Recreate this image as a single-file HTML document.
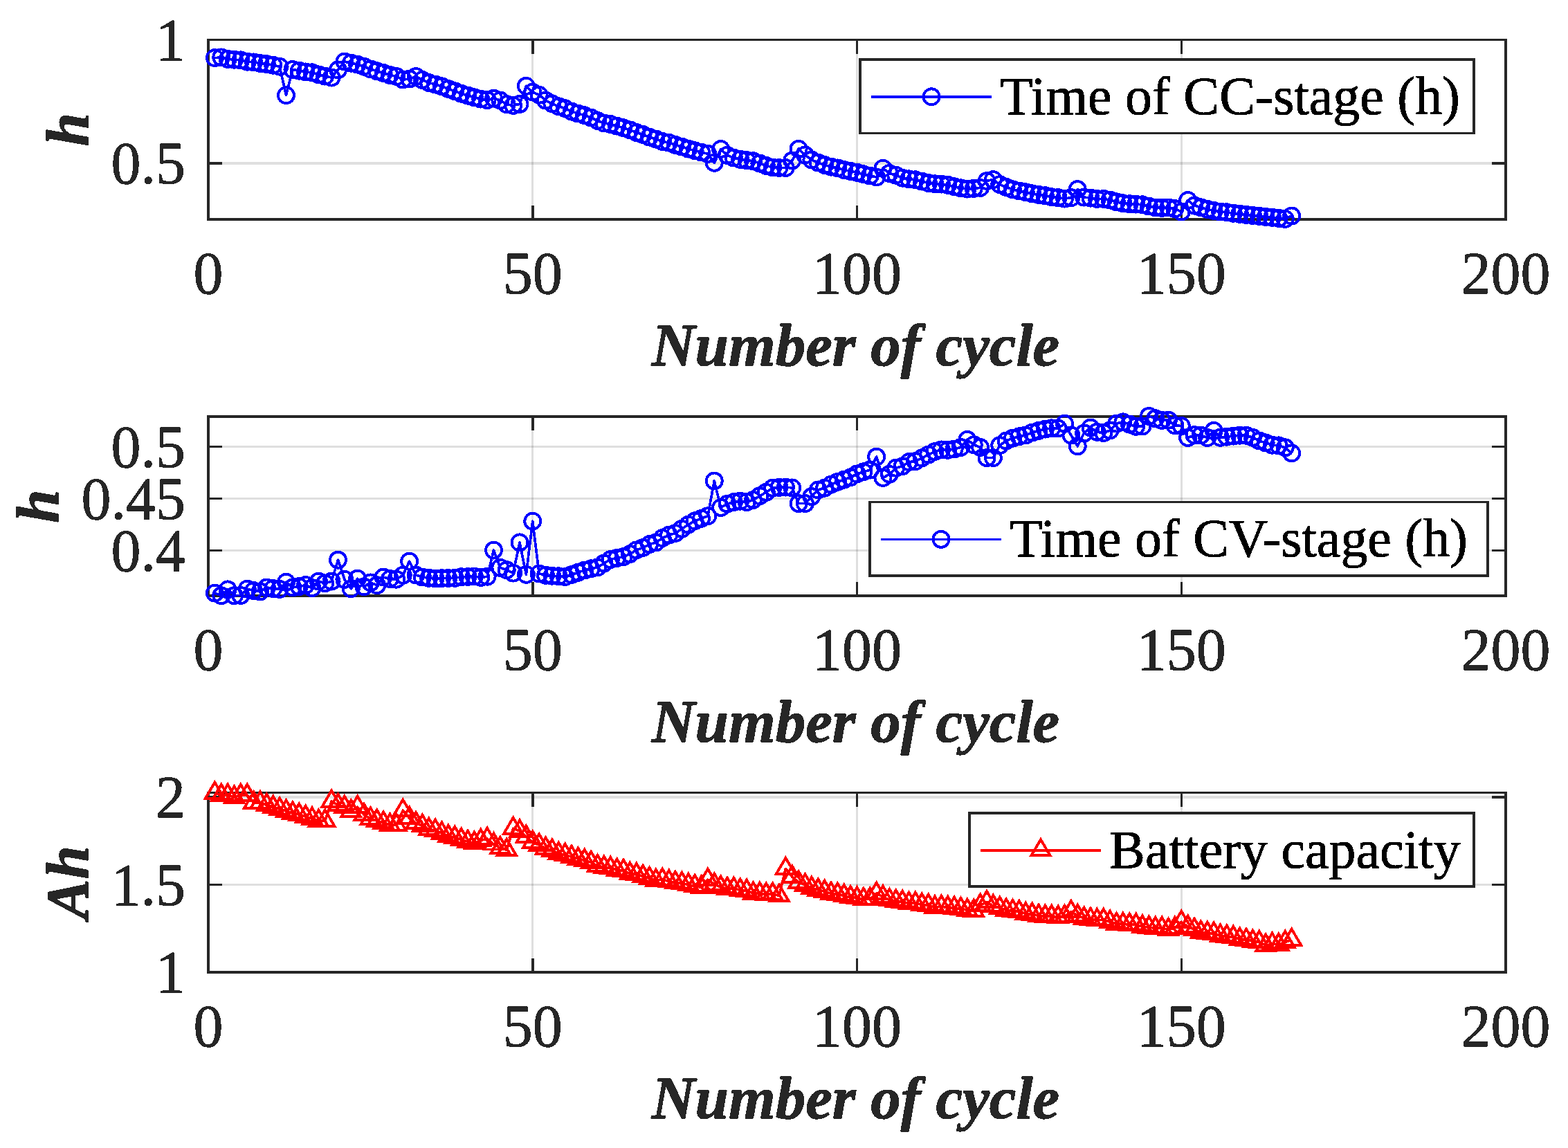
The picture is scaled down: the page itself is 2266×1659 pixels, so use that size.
<!DOCTYPE html><html><head><meta charset="utf-8"><title>Battery cycle plots</title><style>html,body{margin:0;padding:0;background:#fff;}svg{display:block;}text{font-family:"Liberation Serif","Times New Roman",serif;}</style></head><body>
<svg width="2266" height="1659" viewBox="0 0 2266 1659" shape-rendering="crispEdges">
<defs><filter id="bin" x="0" y="0" width="2266" height="1659" filterUnits="userSpaceOnUse" color-interpolation-filters="sRGB"><feComponentTransfer><feFuncA type="discrete" tableValues="0 1"/></feComponentTransfer></filter></defs>
<rect width="2266" height="1659" fill="#fff"/>
<path d="M769.75 57.5V317" stroke="#262626" stroke-opacity="0.15" stroke-width="3.0" fill="none"/>
<path d="M1238.5 57.5V317" stroke="#262626" stroke-opacity="0.15" stroke-width="3.0" fill="none"/>
<path d="M1707.25 57.5V317" stroke="#262626" stroke-opacity="0.15" stroke-width="3.0" fill="none"/>
<path d="M301 236H2176" stroke="#262626" stroke-opacity="0.15" stroke-width="3.5" fill="none"/>
<path d="M301 317v-20M301 57.5v20M769.75 317v-20M769.75 57.5v20M1238.5 317v-20M1238.5 57.5v20M1707.25 317v-20M1707.25 57.5v20M2176 317v-20M2176 57.5v20M301 236h20M2176 236h-20M301 57.5h20M2176 57.5h-20" stroke="#262626" stroke-width="3.5" fill="none"/>
<rect x="301" y="57.5" width="1875" height="259.5" fill="none" stroke="#262626" stroke-width="3.5"/>
<path d="M310.38 83.6L319.75 82.9L329.12 85.3L338.5 86.2L347.88 86.9L357.25 89.2L366.62 89.9L376 91.5L385.38 92.6L394.75 94.2L404.12 96.2L413.5 137.6L422.88 100.5L432.25 102.2L441.62 103.9L451 104.8L460.38 107.9L469.75 110.1L479.12 112.1L488.5 100.9L497.88 89L507.25 91.2L516.62 93.2L526 96.2L535.38 99.9L544.75 102.8L554.12 105.5L563.5 108.5L572.88 110.5L582.25 115L591.62 114L601 110.5L610.38 115.5L619.75 119.5L629.12 122.1L638.5 124.8L647.88 128.5L657.25 131.8L666.62 135.2L676 138.1L685.38 140.8L694.75 143.1L704.12 144.7L713.5 142.1L722.88 145.1L732.25 150.7L741.62 152.4L751 150.4L760.38 124.3L769.75 133.2L779.12 137.2L788.5 145.1L797.88 149.8L807.25 153.8L816.62 156.7L826 161.1L835.38 164L844.75 166.7L854.12 170L863.5 174.4L872.88 178L882.25 179.5L891.62 182.1L901 184.8L910.38 187.9L919.75 191.5L929.12 194.5L938.5 198.1L947.88 201.1L957.25 204.5L966.62 206.1L976 209.4L985.38 212L994.75 215.1L1004.12 217.8L1013.5 220L1022.88 222.4L1032.25 235.3L1041.62 215.5L1051 224.4L1060.38 228L1069.75 230.4L1079.12 231.7L1088.5 232.7L1097.88 236.1L1107.25 239.4L1116.62 242L1126 242.5L1135.38 242.5L1144.75 232L1154.12 215.2L1163.5 224L1172.88 231L1182.25 235L1191.62 238.5L1201 241.1L1210.38 242.9L1219.75 245.6L1229.12 247.5L1238.5 249.3L1247.88 251.8L1257.25 254L1266.62 256L1276 243.3L1285.38 250.5L1294.75 253.2L1304.12 257.2L1313.5 258.8L1322.88 259.8L1332.25 262.1L1341.62 264.5L1351 265.8L1360.38 266.1L1369.75 267.4L1379.12 269.8L1388.5 271.8L1397.88 273.1L1407.25 272.4L1416.62 271.4L1426 261.5L1435.38 259.6L1444.75 266.5L1454.12 270.5L1463.5 273.8L1472.88 276L1482.25 277.8L1491.62 279.8L1501 281.4L1510.38 282.7L1519.75 284.7L1529.12 285.7L1538.5 287.1L1547.88 285.7L1557.25 273.6L1566.62 285.1L1576 286.1L1585.38 287.4L1594.75 287.4L1604.12 289.1L1613.5 291.8L1622.88 293.8L1632.25 294.7L1641.62 295.1L1651 295.8L1660.38 298L1669.75 300L1679.12 300.4L1688.5 300L1697.88 301.7L1707.25 306L1716.62 289.5L1726 297.1L1735.38 299.8L1744.75 302.4L1754.12 304.4L1763.5 306L1772.88 306.7L1782.25 308.2L1791.62 309.3L1801 310.3L1810.38 311.4L1819.75 312.3L1829.12 313.4L1838.5 314.3L1847.88 315.4L1857.25 316.4L1866.62 312" stroke="#0000ff" stroke-width="3.7" fill="none" stroke-linejoin="round"/>
<path d="M298.88 83.6a11.5 11.5 0 1 0 23 0a11.5 11.5 0 1 0 -23 0M308.25 82.9a11.5 11.5 0 1 0 23 0a11.5 11.5 0 1 0 -23 0M317.62 85.3a11.5 11.5 0 1 0 23 0a11.5 11.5 0 1 0 -23 0M327 86.2a11.5 11.5 0 1 0 23 0a11.5 11.5 0 1 0 -23 0M336.38 86.9a11.5 11.5 0 1 0 23 0a11.5 11.5 0 1 0 -23 0M345.75 89.2a11.5 11.5 0 1 0 23 0a11.5 11.5 0 1 0 -23 0M355.12 89.9a11.5 11.5 0 1 0 23 0a11.5 11.5 0 1 0 -23 0M364.5 91.5a11.5 11.5 0 1 0 23 0a11.5 11.5 0 1 0 -23 0M373.88 92.6a11.5 11.5 0 1 0 23 0a11.5 11.5 0 1 0 -23 0M383.25 94.2a11.5 11.5 0 1 0 23 0a11.5 11.5 0 1 0 -23 0M392.62 96.2a11.5 11.5 0 1 0 23 0a11.5 11.5 0 1 0 -23 0M402 137.6a11.5 11.5 0 1 0 23 0a11.5 11.5 0 1 0 -23 0M411.38 100.5a11.5 11.5 0 1 0 23 0a11.5 11.5 0 1 0 -23 0M420.75 102.2a11.5 11.5 0 1 0 23 0a11.5 11.5 0 1 0 -23 0M430.12 103.9a11.5 11.5 0 1 0 23 0a11.5 11.5 0 1 0 -23 0M439.5 104.8a11.5 11.5 0 1 0 23 0a11.5 11.5 0 1 0 -23 0M448.88 107.9a11.5 11.5 0 1 0 23 0a11.5 11.5 0 1 0 -23 0M458.25 110.1a11.5 11.5 0 1 0 23 0a11.5 11.5 0 1 0 -23 0M467.62 112.1a11.5 11.5 0 1 0 23 0a11.5 11.5 0 1 0 -23 0M477 100.9a11.5 11.5 0 1 0 23 0a11.5 11.5 0 1 0 -23 0M486.38 89a11.5 11.5 0 1 0 23 0a11.5 11.5 0 1 0 -23 0M495.75 91.2a11.5 11.5 0 1 0 23 0a11.5 11.5 0 1 0 -23 0M505.12 93.2a11.5 11.5 0 1 0 23 0a11.5 11.5 0 1 0 -23 0M514.5 96.2a11.5 11.5 0 1 0 23 0a11.5 11.5 0 1 0 -23 0M523.88 99.9a11.5 11.5 0 1 0 23 0a11.5 11.5 0 1 0 -23 0M533.25 102.8a11.5 11.5 0 1 0 23 0a11.5 11.5 0 1 0 -23 0M542.62 105.5a11.5 11.5 0 1 0 23 0a11.5 11.5 0 1 0 -23 0M552 108.5a11.5 11.5 0 1 0 23 0a11.5 11.5 0 1 0 -23 0M561.38 110.5a11.5 11.5 0 1 0 23 0a11.5 11.5 0 1 0 -23 0M570.75 115a11.5 11.5 0 1 0 23 0a11.5 11.5 0 1 0 -23 0M580.12 114a11.5 11.5 0 1 0 23 0a11.5 11.5 0 1 0 -23 0M589.5 110.5a11.5 11.5 0 1 0 23 0a11.5 11.5 0 1 0 -23 0M598.88 115.5a11.5 11.5 0 1 0 23 0a11.5 11.5 0 1 0 -23 0M608.25 119.5a11.5 11.5 0 1 0 23 0a11.5 11.5 0 1 0 -23 0M617.62 122.1a11.5 11.5 0 1 0 23 0a11.5 11.5 0 1 0 -23 0M627 124.8a11.5 11.5 0 1 0 23 0a11.5 11.5 0 1 0 -23 0M636.38 128.5a11.5 11.5 0 1 0 23 0a11.5 11.5 0 1 0 -23 0M645.75 131.8a11.5 11.5 0 1 0 23 0a11.5 11.5 0 1 0 -23 0M655.12 135.2a11.5 11.5 0 1 0 23 0a11.5 11.5 0 1 0 -23 0M664.5 138.1a11.5 11.5 0 1 0 23 0a11.5 11.5 0 1 0 -23 0M673.88 140.8a11.5 11.5 0 1 0 23 0a11.5 11.5 0 1 0 -23 0M683.25 143.1a11.5 11.5 0 1 0 23 0a11.5 11.5 0 1 0 -23 0M692.62 144.7a11.5 11.5 0 1 0 23 0a11.5 11.5 0 1 0 -23 0M702 142.1a11.5 11.5 0 1 0 23 0a11.5 11.5 0 1 0 -23 0M711.38 145.1a11.5 11.5 0 1 0 23 0a11.5 11.5 0 1 0 -23 0M720.75 150.7a11.5 11.5 0 1 0 23 0a11.5 11.5 0 1 0 -23 0M730.12 152.4a11.5 11.5 0 1 0 23 0a11.5 11.5 0 1 0 -23 0M739.5 150.4a11.5 11.5 0 1 0 23 0a11.5 11.5 0 1 0 -23 0M748.88 124.3a11.5 11.5 0 1 0 23 0a11.5 11.5 0 1 0 -23 0M758.25 133.2a11.5 11.5 0 1 0 23 0a11.5 11.5 0 1 0 -23 0M767.62 137.2a11.5 11.5 0 1 0 23 0a11.5 11.5 0 1 0 -23 0M777 145.1a11.5 11.5 0 1 0 23 0a11.5 11.5 0 1 0 -23 0M786.38 149.8a11.5 11.5 0 1 0 23 0a11.5 11.5 0 1 0 -23 0M795.75 153.8a11.5 11.5 0 1 0 23 0a11.5 11.5 0 1 0 -23 0M805.12 156.7a11.5 11.5 0 1 0 23 0a11.5 11.5 0 1 0 -23 0M814.5 161.1a11.5 11.5 0 1 0 23 0a11.5 11.5 0 1 0 -23 0M823.88 164a11.5 11.5 0 1 0 23 0a11.5 11.5 0 1 0 -23 0M833.25 166.7a11.5 11.5 0 1 0 23 0a11.5 11.5 0 1 0 -23 0M842.62 170a11.5 11.5 0 1 0 23 0a11.5 11.5 0 1 0 -23 0M852 174.4a11.5 11.5 0 1 0 23 0a11.5 11.5 0 1 0 -23 0M861.38 178a11.5 11.5 0 1 0 23 0a11.5 11.5 0 1 0 -23 0M870.75 179.5a11.5 11.5 0 1 0 23 0a11.5 11.5 0 1 0 -23 0M880.12 182.1a11.5 11.5 0 1 0 23 0a11.5 11.5 0 1 0 -23 0M889.5 184.8a11.5 11.5 0 1 0 23 0a11.5 11.5 0 1 0 -23 0M898.88 187.9a11.5 11.5 0 1 0 23 0a11.5 11.5 0 1 0 -23 0M908.25 191.5a11.5 11.5 0 1 0 23 0a11.5 11.5 0 1 0 -23 0M917.62 194.5a11.5 11.5 0 1 0 23 0a11.5 11.5 0 1 0 -23 0M927 198.1a11.5 11.5 0 1 0 23 0a11.5 11.5 0 1 0 -23 0M936.38 201.1a11.5 11.5 0 1 0 23 0a11.5 11.5 0 1 0 -23 0M945.75 204.5a11.5 11.5 0 1 0 23 0a11.5 11.5 0 1 0 -23 0M955.12 206.1a11.5 11.5 0 1 0 23 0a11.5 11.5 0 1 0 -23 0M964.5 209.4a11.5 11.5 0 1 0 23 0a11.5 11.5 0 1 0 -23 0M973.88 212a11.5 11.5 0 1 0 23 0a11.5 11.5 0 1 0 -23 0M983.25 215.1a11.5 11.5 0 1 0 23 0a11.5 11.5 0 1 0 -23 0M992.62 217.8a11.5 11.5 0 1 0 23 0a11.5 11.5 0 1 0 -23 0M1002 220a11.5 11.5 0 1 0 23 0a11.5 11.5 0 1 0 -23 0M1011.38 222.4a11.5 11.5 0 1 0 23 0a11.5 11.5 0 1 0 -23 0M1020.75 235.3a11.5 11.5 0 1 0 23 0a11.5 11.5 0 1 0 -23 0M1030.12 215.5a11.5 11.5 0 1 0 23 0a11.5 11.5 0 1 0 -23 0M1039.5 224.4a11.5 11.5 0 1 0 23 0a11.5 11.5 0 1 0 -23 0M1048.88 228a11.5 11.5 0 1 0 23 0a11.5 11.5 0 1 0 -23 0M1058.25 230.4a11.5 11.5 0 1 0 23 0a11.5 11.5 0 1 0 -23 0M1067.62 231.7a11.5 11.5 0 1 0 23 0a11.5 11.5 0 1 0 -23 0M1077 232.7a11.5 11.5 0 1 0 23 0a11.5 11.5 0 1 0 -23 0M1086.38 236.1a11.5 11.5 0 1 0 23 0a11.5 11.5 0 1 0 -23 0M1095.75 239.4a11.5 11.5 0 1 0 23 0a11.5 11.5 0 1 0 -23 0M1105.12 242a11.5 11.5 0 1 0 23 0a11.5 11.5 0 1 0 -23 0M1114.5 242.5a11.5 11.5 0 1 0 23 0a11.5 11.5 0 1 0 -23 0M1123.88 242.5a11.5 11.5 0 1 0 23 0a11.5 11.5 0 1 0 -23 0M1133.25 232a11.5 11.5 0 1 0 23 0a11.5 11.5 0 1 0 -23 0M1142.62 215.2a11.5 11.5 0 1 0 23 0a11.5 11.5 0 1 0 -23 0M1152 224a11.5 11.5 0 1 0 23 0a11.5 11.5 0 1 0 -23 0M1161.38 231a11.5 11.5 0 1 0 23 0a11.5 11.5 0 1 0 -23 0M1170.75 235a11.5 11.5 0 1 0 23 0a11.5 11.5 0 1 0 -23 0M1180.12 238.5a11.5 11.5 0 1 0 23 0a11.5 11.5 0 1 0 -23 0M1189.5 241.1a11.5 11.5 0 1 0 23 0a11.5 11.5 0 1 0 -23 0M1198.88 242.9a11.5 11.5 0 1 0 23 0a11.5 11.5 0 1 0 -23 0M1208.25 245.6a11.5 11.5 0 1 0 23 0a11.5 11.5 0 1 0 -23 0M1217.62 247.5a11.5 11.5 0 1 0 23 0a11.5 11.5 0 1 0 -23 0M1227 249.3a11.5 11.5 0 1 0 23 0a11.5 11.5 0 1 0 -23 0M1236.38 251.8a11.5 11.5 0 1 0 23 0a11.5 11.5 0 1 0 -23 0M1245.75 254a11.5 11.5 0 1 0 23 0a11.5 11.5 0 1 0 -23 0M1255.12 256a11.5 11.5 0 1 0 23 0a11.5 11.5 0 1 0 -23 0M1264.5 243.3a11.5 11.5 0 1 0 23 0a11.5 11.5 0 1 0 -23 0M1273.88 250.5a11.5 11.5 0 1 0 23 0a11.5 11.5 0 1 0 -23 0M1283.25 253.2a11.5 11.5 0 1 0 23 0a11.5 11.5 0 1 0 -23 0M1292.62 257.2a11.5 11.5 0 1 0 23 0a11.5 11.5 0 1 0 -23 0M1302 258.8a11.5 11.5 0 1 0 23 0a11.5 11.5 0 1 0 -23 0M1311.38 259.8a11.5 11.5 0 1 0 23 0a11.5 11.5 0 1 0 -23 0M1320.75 262.1a11.5 11.5 0 1 0 23 0a11.5 11.5 0 1 0 -23 0M1330.12 264.5a11.5 11.5 0 1 0 23 0a11.5 11.5 0 1 0 -23 0M1339.5 265.8a11.5 11.5 0 1 0 23 0a11.5 11.5 0 1 0 -23 0M1348.88 266.1a11.5 11.5 0 1 0 23 0a11.5 11.5 0 1 0 -23 0M1358.25 267.4a11.5 11.5 0 1 0 23 0a11.5 11.5 0 1 0 -23 0M1367.62 269.8a11.5 11.5 0 1 0 23 0a11.5 11.5 0 1 0 -23 0M1377 271.8a11.5 11.5 0 1 0 23 0a11.5 11.5 0 1 0 -23 0M1386.38 273.1a11.5 11.5 0 1 0 23 0a11.5 11.5 0 1 0 -23 0M1395.75 272.4a11.5 11.5 0 1 0 23 0a11.5 11.5 0 1 0 -23 0M1405.12 271.4a11.5 11.5 0 1 0 23 0a11.5 11.5 0 1 0 -23 0M1414.5 261.5a11.5 11.5 0 1 0 23 0a11.5 11.5 0 1 0 -23 0M1423.88 259.6a11.5 11.5 0 1 0 23 0a11.5 11.5 0 1 0 -23 0M1433.25 266.5a11.5 11.5 0 1 0 23 0a11.5 11.5 0 1 0 -23 0M1442.62 270.5a11.5 11.5 0 1 0 23 0a11.5 11.5 0 1 0 -23 0M1452 273.8a11.5 11.5 0 1 0 23 0a11.5 11.5 0 1 0 -23 0M1461.38 276a11.5 11.5 0 1 0 23 0a11.5 11.5 0 1 0 -23 0M1470.75 277.8a11.5 11.5 0 1 0 23 0a11.5 11.5 0 1 0 -23 0M1480.12 279.8a11.5 11.5 0 1 0 23 0a11.5 11.5 0 1 0 -23 0M1489.5 281.4a11.5 11.5 0 1 0 23 0a11.5 11.5 0 1 0 -23 0M1498.88 282.7a11.5 11.5 0 1 0 23 0a11.5 11.5 0 1 0 -23 0M1508.25 284.7a11.5 11.5 0 1 0 23 0a11.5 11.5 0 1 0 -23 0M1517.62 285.7a11.5 11.5 0 1 0 23 0a11.5 11.5 0 1 0 -23 0M1527 287.1a11.5 11.5 0 1 0 23 0a11.5 11.5 0 1 0 -23 0M1536.38 285.7a11.5 11.5 0 1 0 23 0a11.5 11.5 0 1 0 -23 0M1545.75 273.6a11.5 11.5 0 1 0 23 0a11.5 11.5 0 1 0 -23 0M1555.12 285.1a11.5 11.5 0 1 0 23 0a11.5 11.5 0 1 0 -23 0M1564.5 286.1a11.5 11.5 0 1 0 23 0a11.5 11.5 0 1 0 -23 0M1573.88 287.4a11.5 11.5 0 1 0 23 0a11.5 11.5 0 1 0 -23 0M1583.25 287.4a11.5 11.5 0 1 0 23 0a11.5 11.5 0 1 0 -23 0M1592.62 289.1a11.5 11.5 0 1 0 23 0a11.5 11.5 0 1 0 -23 0M1602 291.8a11.5 11.5 0 1 0 23 0a11.5 11.5 0 1 0 -23 0M1611.38 293.8a11.5 11.5 0 1 0 23 0a11.5 11.5 0 1 0 -23 0M1620.75 294.7a11.5 11.5 0 1 0 23 0a11.5 11.5 0 1 0 -23 0M1630.12 295.1a11.5 11.5 0 1 0 23 0a11.5 11.5 0 1 0 -23 0M1639.5 295.8a11.5 11.5 0 1 0 23 0a11.5 11.5 0 1 0 -23 0M1648.88 298a11.5 11.5 0 1 0 23 0a11.5 11.5 0 1 0 -23 0M1658.25 300a11.5 11.5 0 1 0 23 0a11.5 11.5 0 1 0 -23 0M1667.62 300.4a11.5 11.5 0 1 0 23 0a11.5 11.5 0 1 0 -23 0M1677 300a11.5 11.5 0 1 0 23 0a11.5 11.5 0 1 0 -23 0M1686.38 301.7a11.5 11.5 0 1 0 23 0a11.5 11.5 0 1 0 -23 0M1695.75 306a11.5 11.5 0 1 0 23 0a11.5 11.5 0 1 0 -23 0M1705.12 289.5a11.5 11.5 0 1 0 23 0a11.5 11.5 0 1 0 -23 0M1714.5 297.1a11.5 11.5 0 1 0 23 0a11.5 11.5 0 1 0 -23 0M1723.88 299.8a11.5 11.5 0 1 0 23 0a11.5 11.5 0 1 0 -23 0M1733.25 302.4a11.5 11.5 0 1 0 23 0a11.5 11.5 0 1 0 -23 0M1742.62 304.4a11.5 11.5 0 1 0 23 0a11.5 11.5 0 1 0 -23 0M1752 306a11.5 11.5 0 1 0 23 0a11.5 11.5 0 1 0 -23 0M1761.38 306.7a11.5 11.5 0 1 0 23 0a11.5 11.5 0 1 0 -23 0M1770.75 308.2a11.5 11.5 0 1 0 23 0a11.5 11.5 0 1 0 -23 0M1780.12 309.3a11.5 11.5 0 1 0 23 0a11.5 11.5 0 1 0 -23 0M1789.5 310.3a11.5 11.5 0 1 0 23 0a11.5 11.5 0 1 0 -23 0M1798.88 311.4a11.5 11.5 0 1 0 23 0a11.5 11.5 0 1 0 -23 0M1808.25 312.3a11.5 11.5 0 1 0 23 0a11.5 11.5 0 1 0 -23 0M1817.62 313.4a11.5 11.5 0 1 0 23 0a11.5 11.5 0 1 0 -23 0M1827 314.3a11.5 11.5 0 1 0 23 0a11.5 11.5 0 1 0 -23 0M1836.38 315.4a11.5 11.5 0 1 0 23 0a11.5 11.5 0 1 0 -23 0M1845.75 316.4a11.5 11.5 0 1 0 23 0a11.5 11.5 0 1 0 -23 0M1855.12 312a11.5 11.5 0 1 0 23 0a11.5 11.5 0 1 0 -23 0" stroke="#0000ff" stroke-width="3.9" fill="none" stroke-linejoin="miter"/>
<rect x="1243.1" y="86" width="886.9" height="106.6" fill="#fff" stroke="#262626" stroke-width="3.5"/>
<path d="M1259.1 139.8H1433.1" stroke="#0000ff" stroke-width="3.7"/>
<circle cx="1346.1" cy="139.8" r="11.5" fill="none" stroke="#0000ff" stroke-width="3.9"/>
<path d="M769.75 602V861" stroke="#262626" stroke-opacity="0.15" stroke-width="3.0" fill="none"/>
<path d="M1238.5 602V861" stroke="#262626" stroke-opacity="0.15" stroke-width="3.0" fill="none"/>
<path d="M1707.25 602V861" stroke="#262626" stroke-opacity="0.15" stroke-width="3.0" fill="none"/>
<path d="M301 795.5H2176" stroke="#262626" stroke-opacity="0.15" stroke-width="3.5" fill="none"/>
<path d="M301 720.7H2176" stroke="#262626" stroke-opacity="0.15" stroke-width="3.5" fill="none"/>
<path d="M301 645.7H2176" stroke="#262626" stroke-opacity="0.15" stroke-width="3.5" fill="none"/>
<path d="M301 861v-20M301 602v20M769.75 861v-20M769.75 602v20M1238.5 861v-20M1238.5 602v20M1707.25 861v-20M1707.25 602v20M2176 861v-20M2176 602v20M301 795.5h20M2176 795.5h-20M301 720.7h20M2176 720.7h-20M301 645.7h20M2176 645.7h-20" stroke="#262626" stroke-width="3.5" fill="none"/>
<rect x="301" y="602" width="1875" height="259" fill="none" stroke="#262626" stroke-width="3.5"/>
<path d="M310.38 857.1L319.75 860.7L329.12 851.9L338.5 860.7L347.88 860.5L357.25 851.2L366.62 853.6L376 855L385.38 849L394.75 850.5L404.12 851.5L413.5 841.3L422.88 849L432.25 847.6L441.62 845.5L451 849.6L460.38 840.1L469.75 842.9L479.12 840.1L488.5 809.2L497.88 837.3L507.25 850.7L516.62 836.2L526 847.8L535.38 841.9L544.75 845.7L554.12 834.1L563.5 836.5L572.88 837.2L582.25 831.3L591.62 811.2L601 831L610.38 834L619.75 835.3L629.12 836L638.5 835.7L647.88 835.5L657.25 835.3L666.62 833.7L676 833.5L685.38 833L694.75 834.4L704.12 833.2L713.5 795.1L722.88 820.3L732.25 823.7L741.62 828.1L751 783.9L760.38 830.3L769.75 753.2L779.12 829L788.5 831.3L797.88 832.2L807.25 832.8L816.62 833.6L826 830.5L835.38 827.3L844.75 824L854.12 821.8L863.5 820L872.88 813.9L882.25 808.6L891.62 806.4L901 804.6L910.38 800.6L919.75 794.9L929.12 791.5L938.5 786.6L947.88 784L957.25 777.6L966.62 773.2L976 770.5L985.38 764.3L994.75 758.1L1004.12 752.8L1013.5 749.4L1022.88 745.7L1032.25 695L1041.62 733.5L1051 728.2L1060.38 725.6L1069.75 724.2L1079.12 725.6L1088.5 722.5L1097.88 716.7L1107.25 711.4L1116.62 705.2L1126 704.3L1135.38 704.1L1144.75 704.9L1154.12 727.6L1163.5 727.6L1172.88 717.6L1182.25 707.9L1191.62 705.2L1201 700.2L1210.38 696.4L1219.75 693.2L1229.12 689.8L1238.5 684.9L1247.88 681.8L1257.25 679.1L1266.62 660.1L1276 690.5L1285.38 685.3L1294.75 676.2L1304.12 673.8L1313.5 667.6L1322.88 666.7L1332.25 661.8L1341.62 657L1351 652.5L1360.38 649.9L1369.75 650.3L1379.12 649L1388.5 646.5L1397.88 635.4L1407.25 642.7L1416.62 646.4L1426 661.6L1435.38 661.6L1444.75 643.6L1454.12 637L1463.5 633.2L1472.88 630.8L1482.25 629L1491.62 625L1501 622.3L1510.38 620.1L1519.75 618.8L1529.12 619L1538.5 612.3L1547.88 629L1557.25 644.8L1566.62 626L1576 618L1585.38 624.3L1594.75 625.6L1604.12 622L1613.5 612.1L1622.88 609.9L1632.25 613.2L1641.62 616.3L1651 616L1660.38 601.4L1669.75 604.8L1679.12 607.5L1688.5 607.2L1697.88 614.8L1707.25 615.5L1716.62 632.5L1726 628.7L1735.38 629L1744.75 632.5L1754.12 622.4L1763.5 632.3L1772.88 631.2L1782.25 630.1L1791.62 629.2L1801 629.2L1810.38 632.3L1819.75 637L1829.12 639.9L1838.5 643.2L1847.88 643.9L1857.25 646.8L1866.62 654.9" stroke="#0000ff" stroke-width="3.7" fill="none" stroke-linejoin="round"/>
<path d="M298.88 857.1a11.5 11.5 0 1 0 23 0a11.5 11.5 0 1 0 -23 0M308.25 860.7a11.5 11.5 0 1 0 23 0a11.5 11.5 0 1 0 -23 0M317.62 851.9a11.5 11.5 0 1 0 23 0a11.5 11.5 0 1 0 -23 0M327 860.7a11.5 11.5 0 1 0 23 0a11.5 11.5 0 1 0 -23 0M336.38 860.5a11.5 11.5 0 1 0 23 0a11.5 11.5 0 1 0 -23 0M345.75 851.2a11.5 11.5 0 1 0 23 0a11.5 11.5 0 1 0 -23 0M355.12 853.6a11.5 11.5 0 1 0 23 0a11.5 11.5 0 1 0 -23 0M364.5 855a11.5 11.5 0 1 0 23 0a11.5 11.5 0 1 0 -23 0M373.88 849a11.5 11.5 0 1 0 23 0a11.5 11.5 0 1 0 -23 0M383.25 850.5a11.5 11.5 0 1 0 23 0a11.5 11.5 0 1 0 -23 0M392.62 851.5a11.5 11.5 0 1 0 23 0a11.5 11.5 0 1 0 -23 0M402 841.3a11.5 11.5 0 1 0 23 0a11.5 11.5 0 1 0 -23 0M411.38 849a11.5 11.5 0 1 0 23 0a11.5 11.5 0 1 0 -23 0M420.75 847.6a11.5 11.5 0 1 0 23 0a11.5 11.5 0 1 0 -23 0M430.12 845.5a11.5 11.5 0 1 0 23 0a11.5 11.5 0 1 0 -23 0M439.5 849.6a11.5 11.5 0 1 0 23 0a11.5 11.5 0 1 0 -23 0M448.88 840.1a11.5 11.5 0 1 0 23 0a11.5 11.5 0 1 0 -23 0M458.25 842.9a11.5 11.5 0 1 0 23 0a11.5 11.5 0 1 0 -23 0M467.62 840.1a11.5 11.5 0 1 0 23 0a11.5 11.5 0 1 0 -23 0M477 809.2a11.5 11.5 0 1 0 23 0a11.5 11.5 0 1 0 -23 0M486.38 837.3a11.5 11.5 0 1 0 23 0a11.5 11.5 0 1 0 -23 0M495.75 850.7a11.5 11.5 0 1 0 23 0a11.5 11.5 0 1 0 -23 0M505.12 836.2a11.5 11.5 0 1 0 23 0a11.5 11.5 0 1 0 -23 0M514.5 847.8a11.5 11.5 0 1 0 23 0a11.5 11.5 0 1 0 -23 0M523.88 841.9a11.5 11.5 0 1 0 23 0a11.5 11.5 0 1 0 -23 0M533.25 845.7a11.5 11.5 0 1 0 23 0a11.5 11.5 0 1 0 -23 0M542.62 834.1a11.5 11.5 0 1 0 23 0a11.5 11.5 0 1 0 -23 0M552 836.5a11.5 11.5 0 1 0 23 0a11.5 11.5 0 1 0 -23 0M561.38 837.2a11.5 11.5 0 1 0 23 0a11.5 11.5 0 1 0 -23 0M570.75 831.3a11.5 11.5 0 1 0 23 0a11.5 11.5 0 1 0 -23 0M580.12 811.2a11.5 11.5 0 1 0 23 0a11.5 11.5 0 1 0 -23 0M589.5 831a11.5 11.5 0 1 0 23 0a11.5 11.5 0 1 0 -23 0M598.88 834a11.5 11.5 0 1 0 23 0a11.5 11.5 0 1 0 -23 0M608.25 835.3a11.5 11.5 0 1 0 23 0a11.5 11.5 0 1 0 -23 0M617.62 836a11.5 11.5 0 1 0 23 0a11.5 11.5 0 1 0 -23 0M627 835.7a11.5 11.5 0 1 0 23 0a11.5 11.5 0 1 0 -23 0M636.38 835.5a11.5 11.5 0 1 0 23 0a11.5 11.5 0 1 0 -23 0M645.75 835.3a11.5 11.5 0 1 0 23 0a11.5 11.5 0 1 0 -23 0M655.12 833.7a11.5 11.5 0 1 0 23 0a11.5 11.5 0 1 0 -23 0M664.5 833.5a11.5 11.5 0 1 0 23 0a11.5 11.5 0 1 0 -23 0M673.88 833a11.5 11.5 0 1 0 23 0a11.5 11.5 0 1 0 -23 0M683.25 834.4a11.5 11.5 0 1 0 23 0a11.5 11.5 0 1 0 -23 0M692.62 833.2a11.5 11.5 0 1 0 23 0a11.5 11.5 0 1 0 -23 0M702 795.1a11.5 11.5 0 1 0 23 0a11.5 11.5 0 1 0 -23 0M711.38 820.3a11.5 11.5 0 1 0 23 0a11.5 11.5 0 1 0 -23 0M720.75 823.7a11.5 11.5 0 1 0 23 0a11.5 11.5 0 1 0 -23 0M730.12 828.1a11.5 11.5 0 1 0 23 0a11.5 11.5 0 1 0 -23 0M739.5 783.9a11.5 11.5 0 1 0 23 0a11.5 11.5 0 1 0 -23 0M748.88 830.3a11.5 11.5 0 1 0 23 0a11.5 11.5 0 1 0 -23 0M758.25 753.2a11.5 11.5 0 1 0 23 0a11.5 11.5 0 1 0 -23 0M767.62 829a11.5 11.5 0 1 0 23 0a11.5 11.5 0 1 0 -23 0M777 831.3a11.5 11.5 0 1 0 23 0a11.5 11.5 0 1 0 -23 0M786.38 832.2a11.5 11.5 0 1 0 23 0a11.5 11.5 0 1 0 -23 0M795.75 832.8a11.5 11.5 0 1 0 23 0a11.5 11.5 0 1 0 -23 0M805.12 833.6a11.5 11.5 0 1 0 23 0a11.5 11.5 0 1 0 -23 0M814.5 830.5a11.5 11.5 0 1 0 23 0a11.5 11.5 0 1 0 -23 0M823.88 827.3a11.5 11.5 0 1 0 23 0a11.5 11.5 0 1 0 -23 0M833.25 824a11.5 11.5 0 1 0 23 0a11.5 11.5 0 1 0 -23 0M842.62 821.8a11.5 11.5 0 1 0 23 0a11.5 11.5 0 1 0 -23 0M852 820a11.5 11.5 0 1 0 23 0a11.5 11.5 0 1 0 -23 0M861.38 813.9a11.5 11.5 0 1 0 23 0a11.5 11.5 0 1 0 -23 0M870.75 808.6a11.5 11.5 0 1 0 23 0a11.5 11.5 0 1 0 -23 0M880.12 806.4a11.5 11.5 0 1 0 23 0a11.5 11.5 0 1 0 -23 0M889.5 804.6a11.5 11.5 0 1 0 23 0a11.5 11.5 0 1 0 -23 0M898.88 800.6a11.5 11.5 0 1 0 23 0a11.5 11.5 0 1 0 -23 0M908.25 794.9a11.5 11.5 0 1 0 23 0a11.5 11.5 0 1 0 -23 0M917.62 791.5a11.5 11.5 0 1 0 23 0a11.5 11.5 0 1 0 -23 0M927 786.6a11.5 11.5 0 1 0 23 0a11.5 11.5 0 1 0 -23 0M936.38 784a11.5 11.5 0 1 0 23 0a11.5 11.5 0 1 0 -23 0M945.75 777.6a11.5 11.5 0 1 0 23 0a11.5 11.5 0 1 0 -23 0M955.12 773.2a11.5 11.5 0 1 0 23 0a11.5 11.5 0 1 0 -23 0M964.5 770.5a11.5 11.5 0 1 0 23 0a11.5 11.5 0 1 0 -23 0M973.88 764.3a11.5 11.5 0 1 0 23 0a11.5 11.5 0 1 0 -23 0M983.25 758.1a11.5 11.5 0 1 0 23 0a11.5 11.5 0 1 0 -23 0M992.62 752.8a11.5 11.5 0 1 0 23 0a11.5 11.5 0 1 0 -23 0M1002 749.4a11.5 11.5 0 1 0 23 0a11.5 11.5 0 1 0 -23 0M1011.38 745.7a11.5 11.5 0 1 0 23 0a11.5 11.5 0 1 0 -23 0M1020.75 695a11.5 11.5 0 1 0 23 0a11.5 11.5 0 1 0 -23 0M1030.12 733.5a11.5 11.5 0 1 0 23 0a11.5 11.5 0 1 0 -23 0M1039.5 728.2a11.5 11.5 0 1 0 23 0a11.5 11.5 0 1 0 -23 0M1048.88 725.6a11.5 11.5 0 1 0 23 0a11.5 11.5 0 1 0 -23 0M1058.25 724.2a11.5 11.5 0 1 0 23 0a11.5 11.5 0 1 0 -23 0M1067.62 725.6a11.5 11.5 0 1 0 23 0a11.5 11.5 0 1 0 -23 0M1077 722.5a11.5 11.5 0 1 0 23 0a11.5 11.5 0 1 0 -23 0M1086.38 716.7a11.5 11.5 0 1 0 23 0a11.5 11.5 0 1 0 -23 0M1095.75 711.4a11.5 11.5 0 1 0 23 0a11.5 11.5 0 1 0 -23 0M1105.12 705.2a11.5 11.5 0 1 0 23 0a11.5 11.5 0 1 0 -23 0M1114.5 704.3a11.5 11.5 0 1 0 23 0a11.5 11.5 0 1 0 -23 0M1123.88 704.1a11.5 11.5 0 1 0 23 0a11.5 11.5 0 1 0 -23 0M1133.25 704.9a11.5 11.5 0 1 0 23 0a11.5 11.5 0 1 0 -23 0M1142.62 727.6a11.5 11.5 0 1 0 23 0a11.5 11.5 0 1 0 -23 0M1152 727.6a11.5 11.5 0 1 0 23 0a11.5 11.5 0 1 0 -23 0M1161.38 717.6a11.5 11.5 0 1 0 23 0a11.5 11.5 0 1 0 -23 0M1170.75 707.9a11.5 11.5 0 1 0 23 0a11.5 11.5 0 1 0 -23 0M1180.12 705.2a11.5 11.5 0 1 0 23 0a11.5 11.5 0 1 0 -23 0M1189.5 700.2a11.5 11.5 0 1 0 23 0a11.5 11.5 0 1 0 -23 0M1198.88 696.4a11.5 11.5 0 1 0 23 0a11.5 11.5 0 1 0 -23 0M1208.25 693.2a11.5 11.5 0 1 0 23 0a11.5 11.5 0 1 0 -23 0M1217.62 689.8a11.5 11.5 0 1 0 23 0a11.5 11.5 0 1 0 -23 0M1227 684.9a11.5 11.5 0 1 0 23 0a11.5 11.5 0 1 0 -23 0M1236.38 681.8a11.5 11.5 0 1 0 23 0a11.5 11.5 0 1 0 -23 0M1245.75 679.1a11.5 11.5 0 1 0 23 0a11.5 11.5 0 1 0 -23 0M1255.12 660.1a11.5 11.5 0 1 0 23 0a11.5 11.5 0 1 0 -23 0M1264.5 690.5a11.5 11.5 0 1 0 23 0a11.5 11.5 0 1 0 -23 0M1273.88 685.3a11.5 11.5 0 1 0 23 0a11.5 11.5 0 1 0 -23 0M1283.25 676.2a11.5 11.5 0 1 0 23 0a11.5 11.5 0 1 0 -23 0M1292.62 673.8a11.5 11.5 0 1 0 23 0a11.5 11.5 0 1 0 -23 0M1302 667.6a11.5 11.5 0 1 0 23 0a11.5 11.5 0 1 0 -23 0M1311.38 666.7a11.5 11.5 0 1 0 23 0a11.5 11.5 0 1 0 -23 0M1320.75 661.8a11.5 11.5 0 1 0 23 0a11.5 11.5 0 1 0 -23 0M1330.12 657a11.5 11.5 0 1 0 23 0a11.5 11.5 0 1 0 -23 0M1339.5 652.5a11.5 11.5 0 1 0 23 0a11.5 11.5 0 1 0 -23 0M1348.88 649.9a11.5 11.5 0 1 0 23 0a11.5 11.5 0 1 0 -23 0M1358.25 650.3a11.5 11.5 0 1 0 23 0a11.5 11.5 0 1 0 -23 0M1367.62 649a11.5 11.5 0 1 0 23 0a11.5 11.5 0 1 0 -23 0M1377 646.5a11.5 11.5 0 1 0 23 0a11.5 11.5 0 1 0 -23 0M1386.38 635.4a11.5 11.5 0 1 0 23 0a11.5 11.5 0 1 0 -23 0M1395.75 642.7a11.5 11.5 0 1 0 23 0a11.5 11.5 0 1 0 -23 0M1405.12 646.4a11.5 11.5 0 1 0 23 0a11.5 11.5 0 1 0 -23 0M1414.5 661.6a11.5 11.5 0 1 0 23 0a11.5 11.5 0 1 0 -23 0M1423.88 661.6a11.5 11.5 0 1 0 23 0a11.5 11.5 0 1 0 -23 0M1433.25 643.6a11.5 11.5 0 1 0 23 0a11.5 11.5 0 1 0 -23 0M1442.62 637a11.5 11.5 0 1 0 23 0a11.5 11.5 0 1 0 -23 0M1452 633.2a11.5 11.5 0 1 0 23 0a11.5 11.5 0 1 0 -23 0M1461.38 630.8a11.5 11.5 0 1 0 23 0a11.5 11.5 0 1 0 -23 0M1470.75 629a11.5 11.5 0 1 0 23 0a11.5 11.5 0 1 0 -23 0M1480.12 625a11.5 11.5 0 1 0 23 0a11.5 11.5 0 1 0 -23 0M1489.5 622.3a11.5 11.5 0 1 0 23 0a11.5 11.5 0 1 0 -23 0M1498.88 620.1a11.5 11.5 0 1 0 23 0a11.5 11.5 0 1 0 -23 0M1508.25 618.8a11.5 11.5 0 1 0 23 0a11.5 11.5 0 1 0 -23 0M1517.62 619a11.5 11.5 0 1 0 23 0a11.5 11.5 0 1 0 -23 0M1527 612.3a11.5 11.5 0 1 0 23 0a11.5 11.5 0 1 0 -23 0M1536.38 629a11.5 11.5 0 1 0 23 0a11.5 11.5 0 1 0 -23 0M1545.75 644.8a11.5 11.5 0 1 0 23 0a11.5 11.5 0 1 0 -23 0M1555.12 626a11.5 11.5 0 1 0 23 0a11.5 11.5 0 1 0 -23 0M1564.5 618a11.5 11.5 0 1 0 23 0a11.5 11.5 0 1 0 -23 0M1573.88 624.3a11.5 11.5 0 1 0 23 0a11.5 11.5 0 1 0 -23 0M1583.25 625.6a11.5 11.5 0 1 0 23 0a11.5 11.5 0 1 0 -23 0M1592.62 622a11.5 11.5 0 1 0 23 0a11.5 11.5 0 1 0 -23 0M1602 612.1a11.5 11.5 0 1 0 23 0a11.5 11.5 0 1 0 -23 0M1611.38 609.9a11.5 11.5 0 1 0 23 0a11.5 11.5 0 1 0 -23 0M1620.75 613.2a11.5 11.5 0 1 0 23 0a11.5 11.5 0 1 0 -23 0M1630.12 616.3a11.5 11.5 0 1 0 23 0a11.5 11.5 0 1 0 -23 0M1639.5 616a11.5 11.5 0 1 0 23 0a11.5 11.5 0 1 0 -23 0M1648.88 601.4a11.5 11.5 0 1 0 23 0a11.5 11.5 0 1 0 -23 0M1658.25 604.8a11.5 11.5 0 1 0 23 0a11.5 11.5 0 1 0 -23 0M1667.62 607.5a11.5 11.5 0 1 0 23 0a11.5 11.5 0 1 0 -23 0M1677 607.2a11.5 11.5 0 1 0 23 0a11.5 11.5 0 1 0 -23 0M1686.38 614.8a11.5 11.5 0 1 0 23 0a11.5 11.5 0 1 0 -23 0M1695.75 615.5a11.5 11.5 0 1 0 23 0a11.5 11.5 0 1 0 -23 0M1705.12 632.5a11.5 11.5 0 1 0 23 0a11.5 11.5 0 1 0 -23 0M1714.5 628.7a11.5 11.5 0 1 0 23 0a11.5 11.5 0 1 0 -23 0M1723.88 629a11.5 11.5 0 1 0 23 0a11.5 11.5 0 1 0 -23 0M1733.25 632.5a11.5 11.5 0 1 0 23 0a11.5 11.5 0 1 0 -23 0M1742.62 622.4a11.5 11.5 0 1 0 23 0a11.5 11.5 0 1 0 -23 0M1752 632.3a11.5 11.5 0 1 0 23 0a11.5 11.5 0 1 0 -23 0M1761.38 631.2a11.5 11.5 0 1 0 23 0a11.5 11.5 0 1 0 -23 0M1770.75 630.1a11.5 11.5 0 1 0 23 0a11.5 11.5 0 1 0 -23 0M1780.12 629.2a11.5 11.5 0 1 0 23 0a11.5 11.5 0 1 0 -23 0M1789.5 629.2a11.5 11.5 0 1 0 23 0a11.5 11.5 0 1 0 -23 0M1798.88 632.3a11.5 11.5 0 1 0 23 0a11.5 11.5 0 1 0 -23 0M1808.25 637a11.5 11.5 0 1 0 23 0a11.5 11.5 0 1 0 -23 0M1817.62 639.9a11.5 11.5 0 1 0 23 0a11.5 11.5 0 1 0 -23 0M1827 643.2a11.5 11.5 0 1 0 23 0a11.5 11.5 0 1 0 -23 0M1836.38 643.9a11.5 11.5 0 1 0 23 0a11.5 11.5 0 1 0 -23 0M1845.75 646.8a11.5 11.5 0 1 0 23 0a11.5 11.5 0 1 0 -23 0M1855.12 654.9a11.5 11.5 0 1 0 23 0a11.5 11.5 0 1 0 -23 0" stroke="#0000ff" stroke-width="3.9" fill="none" stroke-linejoin="miter"/>
<rect x="1257" y="725.6" width="893" height="106.4" fill="#fff" stroke="#262626" stroke-width="3.5"/>
<path d="M1273 779.4H1447" stroke="#0000ff" stroke-width="3.7"/>
<circle cx="1360" cy="779.4" r="11.5" fill="none" stroke="#0000ff" stroke-width="3.9"/>
<path d="M769.75 1145.5V1405" stroke="#262626" stroke-opacity="0.15" stroke-width="3.0" fill="none"/>
<path d="M1238.5 1145.5V1405" stroke="#262626" stroke-opacity="0.15" stroke-width="3.0" fill="none"/>
<path d="M1707.25 1145.5V1405" stroke="#262626" stroke-opacity="0.15" stroke-width="3.0" fill="none"/>
<path d="M301 1278.5H2176" stroke="#262626" stroke-opacity="0.15" stroke-width="3.5" fill="none"/>
<path d="M301 1152H2176" stroke="#262626" stroke-opacity="0.15" stroke-width="3.5" fill="none"/>
<path d="M301 1405v-20M301 1145.5v20M769.75 1405v-20M769.75 1145.5v20M1238.5 1405v-20M1238.5 1145.5v20M1707.25 1405v-20M1707.25 1145.5v20M2176 1405v-20M2176 1145.5v20M301 1405h20M2176 1405h-20M301 1278.5h20M2176 1278.5h-20M301 1152h20M2176 1152h-20" stroke="#262626" stroke-width="3.5" fill="none"/>
<rect x="301" y="1145.5" width="1875" height="259.5" fill="none" stroke="#262626" stroke-width="3.5"/>
<path d="M310.38 1146.2L319.75 1149.2L329.12 1149.2L338.5 1152.1L347.88 1149.2L357.25 1149.2L366.62 1160.1L376 1160.1L385.38 1163.3L394.75 1166.3L404.12 1169.1L413.5 1172.1L422.88 1175L432.25 1177.2L441.62 1180.2L451 1183.1L460.38 1186.1L469.75 1186.1L479.12 1158.1L488.5 1163.3L497.88 1166.3L507.25 1172.1L516.62 1166.3L526 1177.5L535.38 1183L544.75 1186.1L554.12 1189.1L563.5 1192.2L572.88 1192.2L582.25 1171.2L591.62 1182.3L601 1189.5L610.38 1193.3L619.75 1198.3L629.12 1200.2L638.5 1204.2L647.88 1208.3L657.25 1210.2L666.62 1213.3L676 1216.3L685.38 1218.3L694.75 1214.4L704.12 1212.2L713.5 1219.9L722.88 1225.5L732.25 1228.2L741.62 1197.2L751 1201.1L760.38 1209.2L769.75 1217L779.12 1221.1L788.5 1226.1L797.88 1229.1L807.25 1233.3L816.62 1235.3L826 1238.3L835.38 1241.1L844.75 1243.3L854.12 1246.4L863.5 1251.3L872.88 1253.3L882.25 1254.4L891.62 1257.1L901 1258.2L910.38 1262.4L919.75 1263.5L929.12 1266.4L938.5 1269.3L947.88 1272.3L957.25 1271.2L966.62 1273.4L976 1275.4L985.38 1276.5L994.75 1278.5L1004.12 1280.4L1013.5 1282.2L1022.88 1271.3L1032.25 1278L1041.62 1282.2L1051 1284.2L1060.38 1284.2L1069.75 1286.1L1079.12 1287.2L1088.5 1291.1L1097.88 1291.3L1107.25 1292.2L1116.62 1292.2L1126 1294.2L1135.38 1255.4L1144.75 1267.2L1154.12 1275L1163.5 1279.1L1172.88 1283.3L1182.25 1286.1L1191.62 1288.3L1201 1291.3L1210.38 1292.2L1219.75 1294.4L1229.12 1296.6L1238.5 1297.9L1247.88 1299.4L1257.25 1299.1L1266.62 1291.1L1276 1296.1L1285.38 1300.6L1294.75 1302L1304.12 1303.3L1313.5 1305.3L1322.88 1305.3L1332.25 1307.2L1341.62 1308.3L1351 1311.1L1360.38 1310.2L1369.75 1311.3L1379.12 1312.2L1388.5 1313.3L1397.88 1315.3L1407.25 1316.1L1416.62 1308.3L1426 1303.6L1435.38 1309.4L1444.75 1312.2L1454.12 1315L1463.5 1316.4L1472.88 1317.5L1482.25 1320.4L1491.62 1321.3L1501 1323.3L1510.38 1324.2L1519.75 1324.4L1529.12 1325.3L1538.5 1324.4L1547.88 1317.6L1557.25 1323.3L1566.62 1327.2L1576 1328.3L1585.38 1329.4L1594.75 1329.4L1604.12 1332.2L1613.5 1335.3L1622.88 1335.3L1632.25 1336.1L1641.62 1336.4L1651 1339L1660.38 1340.1L1669.75 1341.3L1679.12 1341.3L1688.5 1343.3L1697.88 1341.3L1707.25 1332.3L1716.62 1339.1L1726 1343.2L1735.38 1347.2L1744.75 1348.2L1754.12 1349.1L1763.5 1352.2L1772.88 1353.1L1782.25 1354.3L1791.62 1357.3L1801 1358.2L1810.38 1360.2L1819.75 1361.4L1829.12 1366.1L1838.5 1364.2L1847.88 1365.2L1857.25 1361.4L1866.62 1358.2" stroke="#ff0000" stroke-width="3.7" fill="none" stroke-linejoin="round"/>
<path d="M310.38 1130.6L323.98 1153.8L296.77 1153.8ZM319.75 1133.6L333.35 1156.8L306.15 1156.8ZM329.12 1133.6L342.73 1156.8L315.52 1156.8ZM338.5 1136.5L352.1 1159.7L324.9 1159.7ZM347.88 1133.6L361.48 1156.8L334.27 1156.8ZM357.25 1133.6L370.85 1156.8L343.65 1156.8ZM366.62 1144.5L380.23 1167.7L353.02 1167.7ZM376 1144.5L389.6 1167.7L362.4 1167.7ZM385.38 1147.7L398.98 1170.9L371.77 1170.9ZM394.75 1150.7L408.35 1173.9L381.15 1173.9ZM404.12 1153.5L417.73 1176.7L390.52 1176.7ZM413.5 1156.5L427.1 1179.7L399.9 1179.7ZM422.88 1159.4L436.48 1182.6L409.27 1182.6ZM432.25 1161.6L445.85 1184.8L418.65 1184.8ZM441.62 1164.6L455.23 1187.8L428.02 1187.8ZM451 1167.5L464.6 1190.7L437.4 1190.7ZM460.38 1170.5L473.98 1193.7L446.77 1193.7ZM469.75 1170.5L483.35 1193.7L456.15 1193.7ZM479.12 1142.5L492.73 1165.7L465.52 1165.7ZM488.5 1147.7L502.1 1170.9L474.9 1170.9ZM497.88 1150.7L511.48 1173.9L484.27 1173.9ZM507.25 1156.5L520.85 1179.7L493.65 1179.7ZM516.62 1150.7L530.23 1173.9L503.02 1173.9ZM526 1161.9L539.6 1185.1L512.4 1185.1ZM535.38 1167.4L548.98 1190.6L521.77 1190.6ZM544.75 1170.5L558.35 1193.7L531.15 1193.7ZM554.12 1173.5L567.73 1196.7L540.52 1196.7ZM563.5 1176.6L577.1 1199.8L549.9 1199.8ZM572.88 1176.6L586.48 1199.8L559.27 1199.8ZM582.25 1155.6L595.85 1178.8L568.65 1178.8ZM591.62 1166.7L605.23 1189.9L578.02 1189.9ZM601 1173.9L614.6 1197.1L587.4 1197.1ZM610.38 1177.7L623.98 1200.9L596.77 1200.9ZM619.75 1182.7L633.35 1205.9L606.15 1205.9ZM629.12 1184.6L642.73 1207.8L615.52 1207.8ZM638.5 1188.6L652.1 1211.8L624.9 1211.8ZM647.88 1192.7L661.48 1215.9L634.27 1215.9ZM657.25 1194.6L670.85 1217.8L643.65 1217.8ZM666.62 1197.7L680.23 1220.9L653.02 1220.9ZM676 1200.7L689.6 1223.9L662.4 1223.9ZM685.38 1202.7L698.98 1225.9L671.77 1225.9ZM694.75 1198.8L708.35 1222L681.15 1222ZM704.12 1196.6L717.73 1219.8L690.52 1219.8ZM713.5 1204.3L727.1 1227.5L699.9 1227.5ZM722.88 1209.9L736.48 1233.1L709.27 1233.1ZM732.25 1212.6L745.85 1235.8L718.65 1235.8ZM741.62 1181.6L755.23 1204.8L728.02 1204.8ZM751 1185.5L764.6 1208.7L737.4 1208.7ZM760.38 1193.6L773.98 1216.8L746.77 1216.8ZM769.75 1201.4L783.35 1224.6L756.15 1224.6ZM779.12 1205.5L792.73 1228.7L765.52 1228.7ZM788.5 1210.5L802.1 1233.7L774.9 1233.7ZM797.88 1213.5L811.48 1236.7L784.27 1236.7ZM807.25 1217.7L820.85 1240.9L793.65 1240.9ZM816.62 1219.7L830.23 1242.9L803.02 1242.9ZM826 1222.7L839.6 1245.9L812.4 1245.9ZM835.38 1225.5L848.98 1248.7L821.77 1248.7ZM844.75 1227.7L858.35 1250.9L831.15 1250.9ZM854.12 1230.8L867.73 1254L840.52 1254ZM863.5 1235.7L877.1 1258.9L849.9 1258.9ZM872.88 1237.7L886.48 1260.9L859.27 1260.9ZM882.25 1238.8L895.85 1262L868.65 1262ZM891.62 1241.5L905.23 1264.7L878.02 1264.7ZM901 1242.6L914.6 1265.8L887.4 1265.8ZM910.38 1246.8L923.98 1270L896.77 1270ZM919.75 1247.9L933.35 1271.1L906.15 1271.1ZM929.12 1250.8L942.73 1274L915.52 1274ZM938.5 1253.7L952.1 1276.9L924.9 1276.9ZM947.88 1256.7L961.48 1279.9L934.27 1279.9ZM957.25 1255.6L970.85 1278.8L943.65 1278.8ZM966.62 1257.8L980.23 1281L953.02 1281ZM976 1259.8L989.6 1283L962.4 1283ZM985.38 1260.9L998.98 1284.1L971.77 1284.1ZM994.75 1262.9L1008.35 1286.1L981.15 1286.1ZM1004.12 1264.8L1017.73 1288L990.52 1288ZM1013.5 1266.6L1027.1 1289.8L999.9 1289.8ZM1022.88 1255.7L1036.47 1278.9L1009.27 1278.9ZM1032.25 1262.4L1045.85 1285.6L1018.65 1285.6ZM1041.62 1266.6L1055.22 1289.8L1028.03 1289.8ZM1051 1268.6L1064.6 1291.8L1037.4 1291.8ZM1060.38 1268.6L1073.97 1291.8L1046.78 1291.8ZM1069.75 1270.5L1083.35 1293.7L1056.15 1293.7ZM1079.12 1271.6L1092.72 1294.8L1065.53 1294.8ZM1088.5 1275.5L1102.1 1298.7L1074.9 1298.7ZM1097.88 1275.7L1111.47 1298.9L1084.28 1298.9ZM1107.25 1276.6L1120.85 1299.8L1093.65 1299.8ZM1116.62 1276.6L1130.22 1299.8L1103.03 1299.8ZM1126 1278.6L1139.6 1301.8L1112.4 1301.8ZM1135.38 1239.8L1148.97 1263L1121.78 1263ZM1144.75 1251.6L1158.35 1274.8L1131.15 1274.8ZM1154.12 1259.4L1167.72 1282.6L1140.53 1282.6ZM1163.5 1263.5L1177.1 1286.7L1149.9 1286.7ZM1172.88 1267.7L1186.47 1290.9L1159.28 1290.9ZM1182.25 1270.5L1195.85 1293.7L1168.65 1293.7ZM1191.62 1272.7L1205.22 1295.9L1178.03 1295.9ZM1201 1275.7L1214.6 1298.9L1187.4 1298.9ZM1210.38 1276.6L1223.97 1299.8L1196.78 1299.8ZM1219.75 1278.8L1233.35 1302L1206.15 1302ZM1229.12 1281L1242.72 1304.2L1215.53 1304.2ZM1238.5 1282.3L1252.1 1305.5L1224.9 1305.5ZM1247.88 1283.8L1261.47 1307L1234.28 1307ZM1257.25 1283.5L1270.85 1306.7L1243.65 1306.7ZM1266.62 1275.5L1280.22 1298.7L1253.03 1298.7ZM1276 1280.5L1289.6 1303.7L1262.4 1303.7ZM1285.38 1285L1298.97 1308.2L1271.78 1308.2ZM1294.75 1286.4L1308.35 1309.6L1281.15 1309.6ZM1304.12 1287.7L1317.72 1310.9L1290.53 1310.9ZM1313.5 1289.7L1327.1 1312.9L1299.9 1312.9ZM1322.88 1289.7L1336.47 1312.9L1309.28 1312.9ZM1332.25 1291.6L1345.85 1314.8L1318.65 1314.8ZM1341.62 1292.7L1355.22 1315.9L1328.03 1315.9ZM1351 1295.5L1364.6 1318.7L1337.4 1318.7ZM1360.38 1294.6L1373.97 1317.8L1346.78 1317.8ZM1369.75 1295.7L1383.35 1318.9L1356.15 1318.9ZM1379.12 1296.6L1392.72 1319.8L1365.53 1319.8ZM1388.5 1297.7L1402.1 1320.9L1374.9 1320.9ZM1397.88 1299.7L1411.47 1322.9L1384.28 1322.9ZM1407.25 1300.5L1420.85 1323.7L1393.65 1323.7ZM1416.62 1292.7L1430.22 1315.9L1403.03 1315.9ZM1426 1288L1439.6 1311.2L1412.4 1311.2ZM1435.38 1293.8L1448.97 1317L1421.78 1317ZM1444.75 1296.6L1458.35 1319.8L1431.15 1319.8ZM1454.12 1299.4L1467.72 1322.6L1440.53 1322.6ZM1463.5 1300.8L1477.1 1324L1449.9 1324ZM1472.88 1301.9L1486.47 1325.1L1459.28 1325.1ZM1482.25 1304.8L1495.85 1328L1468.65 1328ZM1491.62 1305.7L1505.22 1328.9L1478.03 1328.9ZM1501 1307.7L1514.6 1330.9L1487.4 1330.9ZM1510.38 1308.6L1523.97 1331.8L1496.78 1331.8ZM1519.75 1308.8L1533.35 1332L1506.15 1332ZM1529.12 1309.7L1542.72 1332.9L1515.53 1332.9ZM1538.5 1308.8L1552.1 1332L1524.9 1332ZM1547.88 1302L1561.47 1325.2L1534.28 1325.2ZM1557.25 1307.7L1570.85 1330.9L1543.65 1330.9ZM1566.62 1311.6L1580.22 1334.8L1553.03 1334.8ZM1576 1312.7L1589.6 1335.9L1562.4 1335.9ZM1585.38 1313.8L1598.97 1337L1571.78 1337ZM1594.75 1313.8L1608.35 1337L1581.15 1337ZM1604.12 1316.6L1617.72 1339.8L1590.53 1339.8ZM1613.5 1319.7L1627.1 1342.9L1599.9 1342.9ZM1622.88 1319.7L1636.47 1342.9L1609.28 1342.9ZM1632.25 1320.5L1645.85 1343.7L1618.65 1343.7ZM1641.62 1320.8L1655.22 1344L1628.03 1344ZM1651 1323.4L1664.6 1346.6L1637.4 1346.6ZM1660.38 1324.5L1673.97 1347.7L1646.78 1347.7ZM1669.75 1325.7L1683.35 1348.9L1656.15 1348.9ZM1679.12 1325.7L1692.72 1348.9L1665.53 1348.9ZM1688.5 1327.7L1702.1 1350.9L1674.9 1350.9ZM1697.88 1325.7L1711.47 1348.9L1684.28 1348.9ZM1707.25 1316.7L1720.85 1339.9L1693.65 1339.9ZM1716.62 1323.5L1730.22 1346.7L1703.03 1346.7ZM1726 1327.6L1739.6 1350.8L1712.4 1350.8ZM1735.38 1331.6L1748.97 1354.8L1721.78 1354.8ZM1744.75 1332.6L1758.35 1355.8L1731.15 1355.8ZM1754.12 1333.5L1767.72 1356.7L1740.53 1356.7ZM1763.5 1336.6L1777.1 1359.8L1749.9 1359.8ZM1772.88 1337.5L1786.47 1360.7L1759.28 1360.7ZM1782.25 1338.7L1795.85 1361.9L1768.65 1361.9ZM1791.62 1341.7L1805.22 1364.9L1778.03 1364.9ZM1801 1342.6L1814.6 1365.8L1787.4 1365.8ZM1810.38 1344.6L1823.97 1367.8L1796.78 1367.8ZM1819.75 1345.8L1833.35 1369L1806.15 1369ZM1829.12 1350.5L1842.72 1373.7L1815.53 1373.7ZM1838.5 1348.6L1852.1 1371.8L1824.9 1371.8ZM1847.88 1349.6L1861.47 1372.8L1834.28 1372.8ZM1857.25 1345.8L1870.85 1369L1843.65 1369ZM1866.62 1342.6L1880.22 1365.8L1853.03 1365.8Z" stroke="#ff0000" stroke-width="3.9" fill="none" stroke-linejoin="miter"/>
<rect x="1401" y="1175" width="729" height="106" fill="#fff" stroke="#262626" stroke-width="3.5"/>
<path d="M1417 1228.8H1591" stroke="#ff0000" stroke-width="3.7"/>
<path d="M1504 1213.2L1517.6 1236.4L1490.4 1236.4Z" fill="none" stroke="#ff0000" stroke-width="3.9"/>
<g filter="url(#bin)">
<text x="301" y="424" font-size="86" fill="#262626" stroke="#262626" stroke-width="0.9" stroke-linejoin="round" text-anchor="middle">0</text>
<text x="769.75" y="424" font-size="86" fill="#262626" stroke="#262626" stroke-width="0.9" stroke-linejoin="round" text-anchor="middle">50</text>
<text x="1238.5" y="424" font-size="86" fill="#262626" stroke="#262626" stroke-width="0.9" stroke-linejoin="round" text-anchor="middle">100</text>
<text x="1707.25" y="424" font-size="86" fill="#262626" stroke="#262626" stroke-width="0.9" stroke-linejoin="round" text-anchor="middle">150</text>
<text x="2176" y="424" font-size="86" fill="#262626" stroke="#262626" stroke-width="0.9" stroke-linejoin="round" text-anchor="middle">200</text>
<text x="268" y="265" font-size="86" fill="#262626" stroke="#262626" stroke-width="0.9" stroke-linejoin="round" text-anchor="end">0.5</text>
<text x="268" y="86.5" font-size="86" fill="#262626" stroke="#262626" stroke-width="0.9" stroke-linejoin="round" text-anchor="end">1</text>
<text x="1236.5" y="527.8" font-size="87" fill="#262626" stroke="#262626" stroke-width="1.2" stroke-linejoin="round" text-anchor="middle" font-weight="bold" font-style="italic">Number of cycle</text>
<text transform="translate(126.9 187.25) rotate(-90)" font-size="87" fill="#262626" stroke="#262626" stroke-width="1.2" stroke-linejoin="round" text-anchor="middle" font-weight="bold" font-style="italic">h</text>
<text x="1445.1" y="164.8" font-size="77.8" fill="#000" stroke="#000" stroke-width="0.9" stroke-linejoin="round">Time of CC-stage (h)</text>
<text x="301" y="968" font-size="86" fill="#262626" stroke="#262626" stroke-width="0.9" stroke-linejoin="round" text-anchor="middle">0</text>
<text x="769.75" y="968" font-size="86" fill="#262626" stroke="#262626" stroke-width="0.9" stroke-linejoin="round" text-anchor="middle">50</text>
<text x="1238.5" y="968" font-size="86" fill="#262626" stroke="#262626" stroke-width="0.9" stroke-linejoin="round" text-anchor="middle">100</text>
<text x="1707.25" y="968" font-size="86" fill="#262626" stroke="#262626" stroke-width="0.9" stroke-linejoin="round" text-anchor="middle">150</text>
<text x="2176" y="968" font-size="86" fill="#262626" stroke="#262626" stroke-width="0.9" stroke-linejoin="round" text-anchor="middle">200</text>
<text x="268" y="824.5" font-size="86" fill="#262626" stroke="#262626" stroke-width="0.9" stroke-linejoin="round" text-anchor="end">0.4</text>
<text x="268" y="749.7" font-size="86" fill="#262626" stroke="#262626" stroke-width="0.9" stroke-linejoin="round" text-anchor="end">0.45</text>
<text x="268" y="674.7" font-size="86" fill="#262626" stroke="#262626" stroke-width="0.9" stroke-linejoin="round" text-anchor="end">0.5</text>
<text x="1236.5" y="1071.8" font-size="87" fill="#262626" stroke="#262626" stroke-width="1.2" stroke-linejoin="round" text-anchor="middle" font-weight="bold" font-style="italic">Number of cycle</text>
<text transform="translate(83.6 731.5) rotate(-90)" font-size="87" fill="#262626" stroke="#262626" stroke-width="1.2" stroke-linejoin="round" text-anchor="middle" font-weight="bold" font-style="italic">h</text>
<text x="1459" y="804.4" font-size="77.8" fill="#000" stroke="#000" stroke-width="0.9" stroke-linejoin="round">Time of CV-stage (h)</text>
<text x="301" y="1512" font-size="86" fill="#262626" stroke="#262626" stroke-width="0.9" stroke-linejoin="round" text-anchor="middle">0</text>
<text x="769.75" y="1512" font-size="86" fill="#262626" stroke="#262626" stroke-width="0.9" stroke-linejoin="round" text-anchor="middle">50</text>
<text x="1238.5" y="1512" font-size="86" fill="#262626" stroke="#262626" stroke-width="0.9" stroke-linejoin="round" text-anchor="middle">100</text>
<text x="1707.25" y="1512" font-size="86" fill="#262626" stroke="#262626" stroke-width="0.9" stroke-linejoin="round" text-anchor="middle">150</text>
<text x="2176" y="1512" font-size="86" fill="#262626" stroke="#262626" stroke-width="0.9" stroke-linejoin="round" text-anchor="middle">200</text>
<text x="268" y="1434" font-size="86" fill="#262626" stroke="#262626" stroke-width="0.9" stroke-linejoin="round" text-anchor="end">1</text>
<text x="268" y="1307.5" font-size="86" fill="#262626" stroke="#262626" stroke-width="0.9" stroke-linejoin="round" text-anchor="end">1.5</text>
<text x="268" y="1181" font-size="86" fill="#262626" stroke="#262626" stroke-width="0.9" stroke-linejoin="round" text-anchor="end">2</text>
<text x="1236.5" y="1615.8" font-size="87" fill="#262626" stroke="#262626" stroke-width="1.2" stroke-linejoin="round" text-anchor="middle" font-weight="bold" font-style="italic">Number of cycle</text>
<text transform="translate(126.6 1275.25) rotate(-90)" font-size="87" fill="#262626" stroke="#262626" stroke-width="1.2" stroke-linejoin="round" text-anchor="middle" font-weight="bold" font-style="italic">Ah</text>
<text x="1603" y="1253.8" font-size="77.8" fill="#000" stroke="#000" stroke-width="0.9" stroke-linejoin="round">Battery capacity</text>
</g>
</svg></body></html>
